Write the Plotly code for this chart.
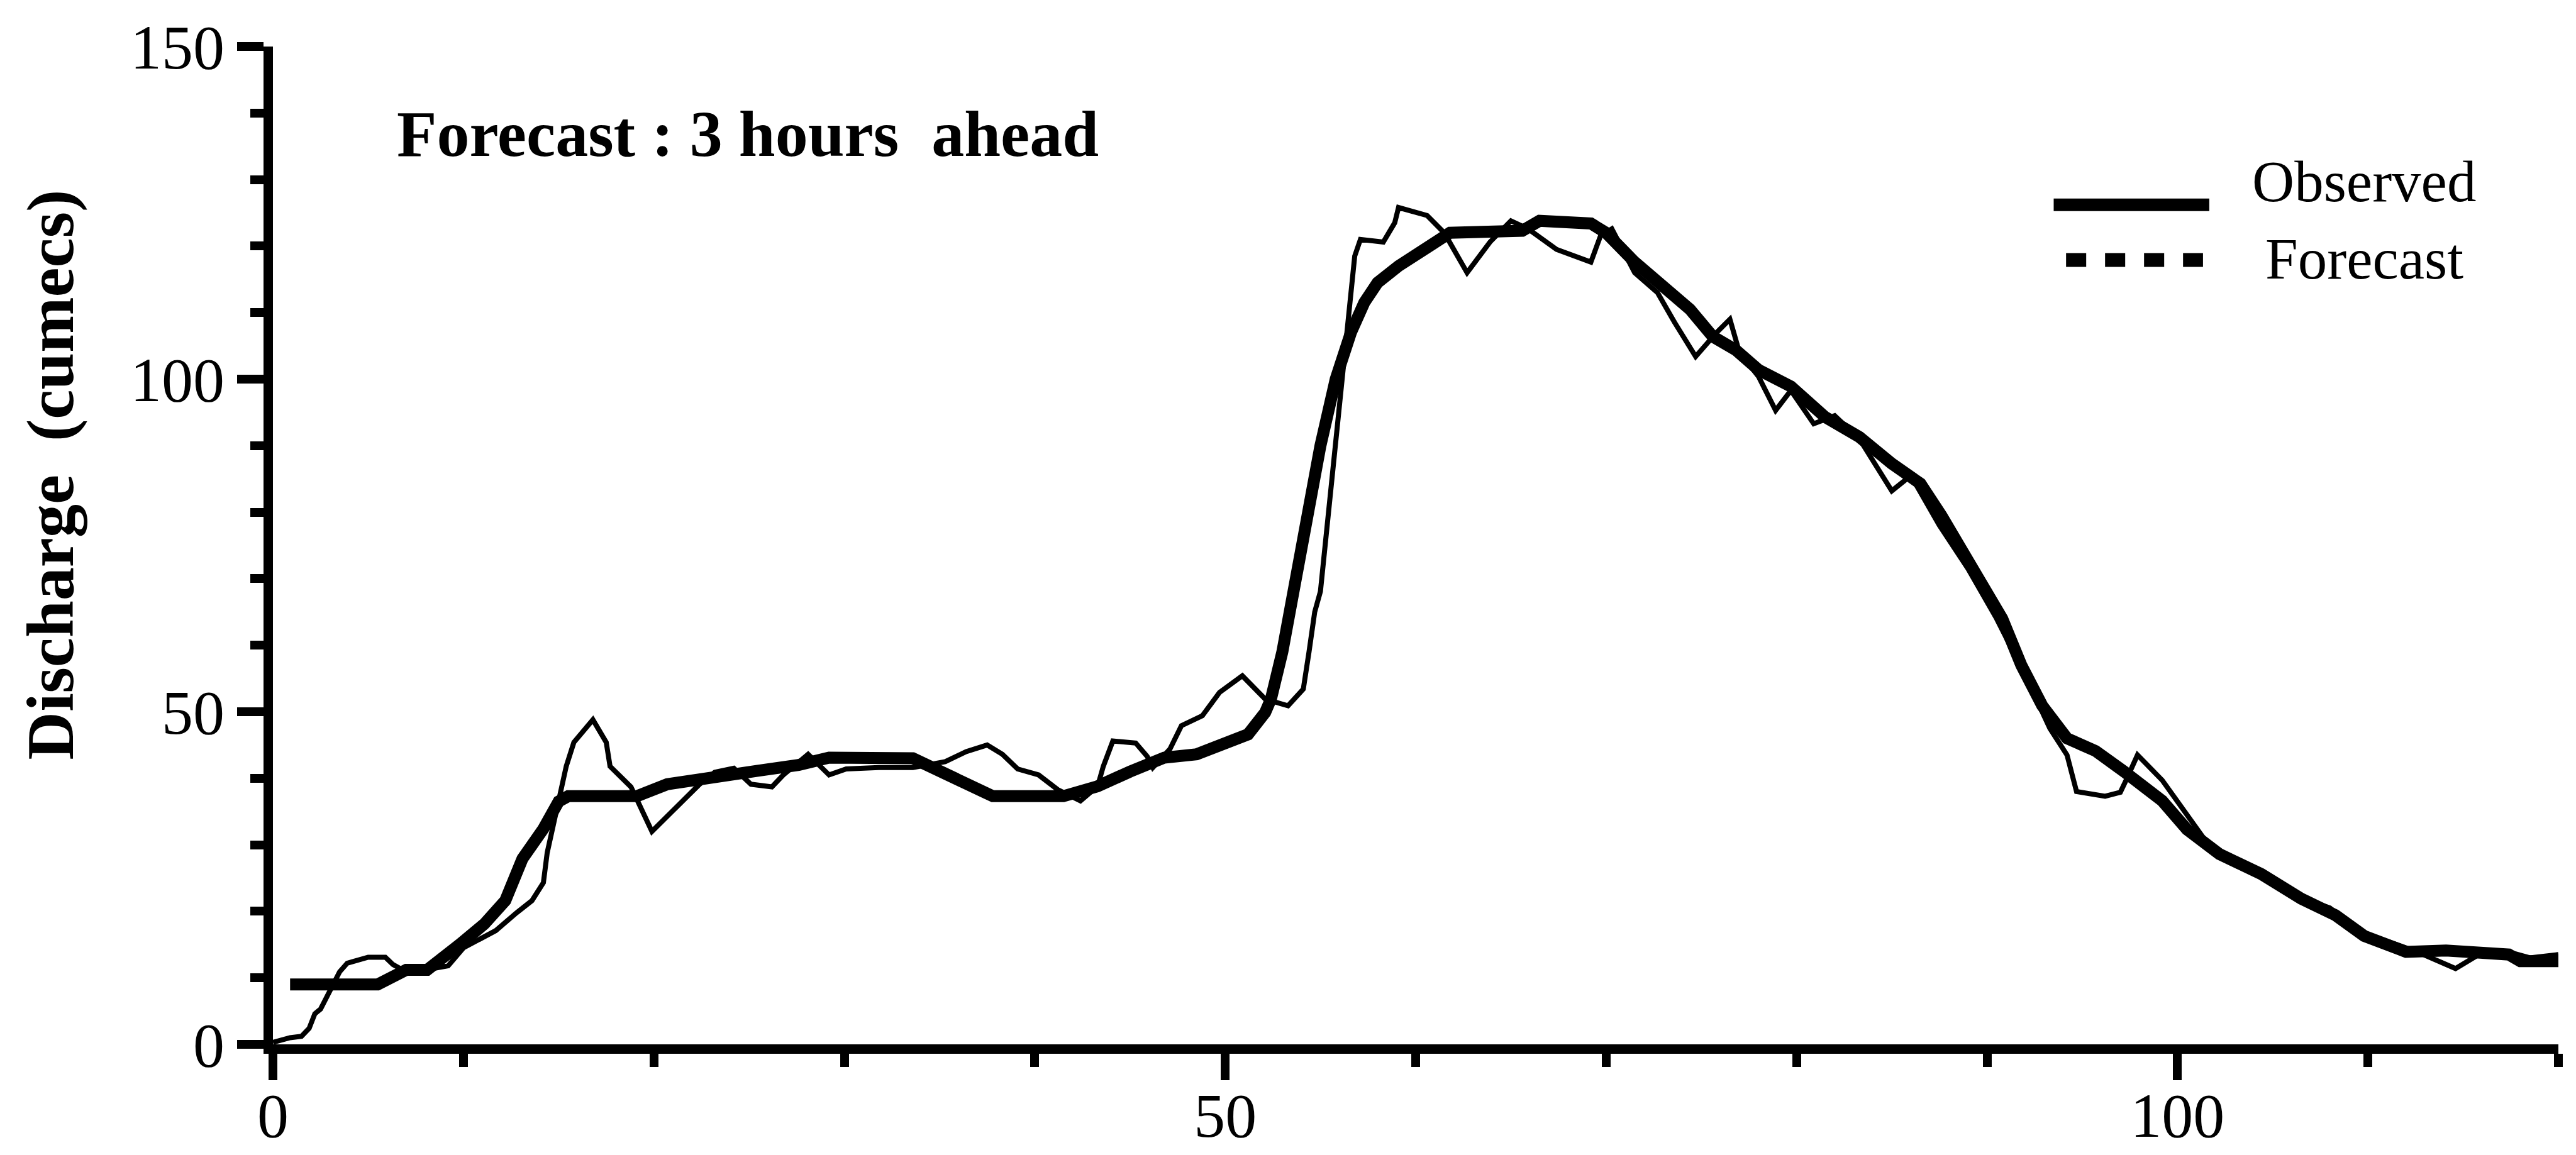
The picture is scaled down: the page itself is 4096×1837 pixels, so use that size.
import plotly.graph_objects as go

# Observed discharge (cumecs) against time (hours)
obs_t = [0.9, 5.5, 7.0, 8.1, 9.8, 11.1, 12.2, 13.1, 14.2, 15.0, 15.5, 19.1, 20.7, 22.1,
         23.7, 25.4, 27.6, 29.2, 33.6, 35.0, 36.4, 37.8, 41.5, 43.3, 45.0, 46.8, 48.5,
         50.6, 51.2, 52.1, 52.4, 53.0, 53.5, 54.4, 55.0, 55.8, 56.6, 57.3, 58.0, 59.1,
         60.9, 61.8, 65.6, 66.5, 69.2, 70.0, 71.5, 73.3, 74.4, 75.6, 76.8, 78.0, 79.7,
         81.5, 83.3, 85.0, 86.5, 87.6, 89.1, 90.8, 91.8, 92.9, 94.2, 95.7, 97.2, 99.2,
         100.5, 102.2, 104.4, 106.5, 108.3, 109.8, 112.0, 114.1, 117.4, 118.0, 120.0]
obs_q = [9, 9, 11.2, 11.2, 15, 18.1, 21.6, 27.9, 32.4, 36.5, 37.3, 37.3, 39.1, 39.8,
         40.2, 41.1, 42, 43.1, 43, 41, 39.1, 37.3, 37.3, 38.8, 41, 43.1, 43.6,
         45.9, 46.6, 49.9, 51.9, 59, 66.5, 81.7, 90, 100, 107, 111.5, 114.5, 117,
         120, 122, 122.3, 123.8, 123.4, 122, 117.6, 113.5, 110.5, 106.4, 104.4, 101.4, 98.9,
         94.3, 91.3, 87.3, 84.3, 79.5, 72.3, 64, 57, 50.9, 46, 44.1, 41, 36.6,
         32.3, 28.6, 25.6, 21.9, 19.4, 16.3, 13.9, 14.1, 13.5, 12.5, 12.5]

# 3-hour-ahead forecast discharge
fc_t = [0.0, 0.9, 1.5, 1.9, 2.2, 2.5, 3.5, 3.9, 5.0, 5.9, 6.3, 6.8, 8.2, 9.2, 10.0,
        11.7, 12.8, 13.6, 14.2, 14.4, 15.4, 15.8, 16.8, 17.5, 17.7, 18.8, 19.9, 21.3,
        22.4, 23.2, 24.2, 25.1, 26.2, 26.8, 28.1, 29.2, 30.1, 31.8, 33.6, 35.3, 36.4,
        37.5, 38.3, 39.1, 40.2, 41.2, 42.4, 43.3, 43.6, 44.1, 45.3, 45.9, 46.2, 47.1,
        47.7, 48.8, 49.7, 50.9, 52.1, 53.3, 54.1, 54.4, 54.7, 55.0, 55.9, 56.5, 56.8,
        57.1, 58.3, 58.9, 59.1, 60.6, 61.5, 62.7, 63.9, 65.0, 65.9, 67.4, 69.2, 69.7,
        70.3, 71.5, 72.7, 73.6, 74.7, 75.8, 76.5, 77.0, 78.0, 78.9, 79.7, 80.9, 82.0,
        83.3, 85.0, 86.0, 87.5, 89.0, 90.5, 92.0, 93.3, 94.2, 94.7, 96.2, 97.0, 97.3,
        97.9, 99.2, 100.1, 101.5, 103.0, 104.4, 106.5, 108.0, 109.5, 111.0, 112.5,
        114.6, 116.0, 117.5, 118.5, 120.0]
fc_q = [0.3, 1.0, 1.2, 2.4, 4.6, 5.3, 10.9, 12.2, 13.1, 13.1, 12.0, 11.2, 11.3, 11.8, 14.5,
        17.1, 19.8, 21.6, 24.3, 28.8, 41.8, 45.4, 48.8, 45.4, 41.8, 38.7, 32.0, 36.0,
        39.1, 40.9, 41.5, 39.1, 38.7, 40.5, 43.6, 40.5, 41.4, 41.6, 41.6, 42.5, 44.0,
        45.0, 43.6, 41.4, 40.5, 38.3, 36.6, 38.8, 41.8, 45.6, 45.3, 43.3, 41.6, 44.4,
        47.9, 49.4, 52.9, 55.4, 51.9, 50.9, 53.4, 59.0, 65.0, 68.1, 93.3, 108.4, 118.5,
        121.0, 120.6, 123.5, 125.8, 124.6, 122.0, 116.0, 120.6, 123.8, 122.6, 119.5, 117.6, 121.5,
        122.6, 116.0, 113.0, 108.5, 103.4, 107.0, 109.0, 104.0, 100.4, 95.3, 98.3, 93.3, 94.5,
        91.0, 83.2, 85.5, 78.0, 71.5, 64.0, 55.5, 47.5, 43.5, 38.0, 37.3, 37.9, 39.7,
        43.5, 39.7, 36.0, 30.5, 27.5, 25.4, 22.0, 20.5, 17.0, 15.5, 14.0,
        11.4, 13.8, 13.8, 13.0, 13.5]

series_names = ["Observed", "Forecast"]
title_text = "Forecast : 3 hours\u00a0 ahead"
y_title = "Discharge\u00a0 (cumecs)"

FONT = "Liberation Serif"
INK = "black"

fig = go.Figure()
fig.add_trace(go.Scatter(x=fc_t, y=fc_q, mode="lines", name=series_names[1],
                         line=dict(color=INK, width=8), showlegend=False))
fig.add_trace(go.Scatter(x=obs_t, y=obs_q, mode="lines", name=series_names[0],
                         line=dict(color=INK, width=19), showlegend=False))

axis_common = dict(
    showline=True, linewidth=15, linecolor=INK,
    ticks="outside", ticklen=42, tickwidth=14, tickcolor=INK,
    minor=dict(ticks="outside", ticklen=21, tickwidth=14, tickcolor=INK, dtick=10),
    showgrid=False, zeroline=False, automargin=False,
    tickfont=dict(family=FONT, size=100, color=INK),
)
fig.update_xaxes(range=[0, 120], tick0=0, dtick=50, ticklabelstandoff=-30, **axis_common)
fig.update_yaxes(range=[0, 150], tick0=0, dtick=50, **axis_common)

# Hand-drawn key in the upper right
fig.add_shape(type="line", xref="x", yref="y", x0=93.5, x1=101.67, y0=126.2, y1=126.2,
              line=dict(color=INK, width=20))
fig.add_shape(type="line", xref="x", yref="y", x0=94.15, x1=101.34, y0=117.9, y1=117.9,
              line=dict(color=INK, width=22, dash="32px,30px"))
for name, yy in zip(series_names, [129.7, 118.1]):
    fig.add_annotation(x=109.8, y=yy, xref="x", yref="y", text=name, showarrow=False,
                       xanchor="center", yanchor="middle",
                       font=dict(family=FONT, size=93, color=INK))

fig.add_annotation(x=6.43, y=136.9, xref="x", yref="y", text=title_text, showarrow=False,
                   xanchor="left", yanchor="middle",
                   font=dict(family=FONT, size=104, color=INK, weight="bold"))
fig.add_annotation(x=-0.0974, y=85.6, xref="paper", yref="y", text=y_title, showarrow=False,
                   textangle=-90, xanchor="center", yanchor="middle",
                   font=dict(family=FONT, size=106, color=INK, weight="bold"))

fig.update_layout(
    template="none",
    width=4096, height=1837,
    margin=dict(l=434, r=28, t=73.5, b=176.4),
    paper_bgcolor="white", plot_bgcolor="white",
    showlegend=False,
)

fig.write_html("out.html", config=dict(displayModeBar=False))
